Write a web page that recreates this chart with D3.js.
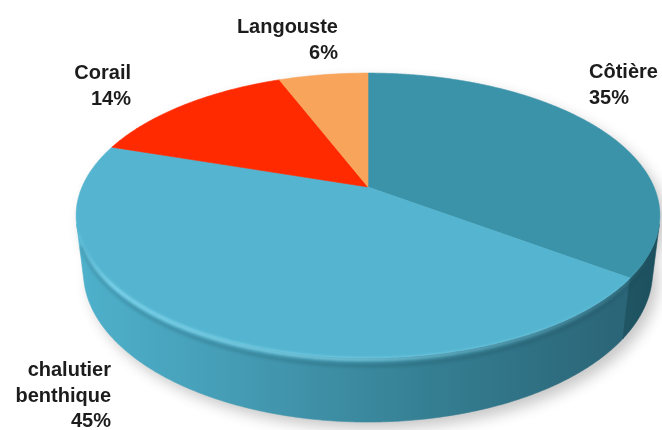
<!DOCTYPE html>
<html>
<head>
<meta charset="utf-8">
<script src="https://cdn.jsdelivr.net/npm/d3@7"></script>
<style>
  html, body { margin: 0; padding: 0; background: #ffffff; }
  svg { display: block; }
  text { font-family: "Liberation Sans", Arial, sans-serif; font-weight: bold; font-size: 20px; fill: #1c1c1c; }
</style>
</head>
<body>
<svg id="chart" width="662" height="430"></svg>
<script>
// Répartition par type de pêche
const categories = ["Côtière", "chalutier benthique", "Corail", "Langouste"];
const shares = [35, 45, 14, 6];
const shareLabels = ["35%", "45%", "14%", "6%"];

const topColors  = ["#3a93a9", "#55b5d0", "#ff2a00", "#f8a55b"];
const sideStops  = [
  ["#235e6e", "#1d4f5d"],
  ["#4fb1cc", "#4399b1", "#357e92", "#2b6678"],
  ["#b81e00", "#8f1700"],
  ["#c07a40", "#9a6030"]
];

// label placement: anchor point of the first line, text alignment
const labelLayout = [
  { x: 589, y: 78,  anchor: "start" },
  { x: 111, y: 376, anchor: "end" },
  { x: 131, y: 79,  anchor: "end" },
  { x: 338, y: 33,  anchor: "end" }
];
const lineHeight = 25.5;

const svg = d3.select("#chart");

// --- 3D disc projection (camera above, looking down at the pie centre) ---
const sinE = 0.478, cosE = Math.sqrt(1 - sinE * sinE);
const camDist = 4.392;          // camera distance in pie radii
const focal = 1256;             // px per unit at image plane
const cx = 368, cy = 187;       // screen position of the pie centre
const depth = 0.2275;           // thickness of the disc in radii

function project(a, r, y) {
  const wx = r * Math.sin(a), wz = -r * Math.cos(a), wy = y;
  const vy = wy - camDist * sinE, vz = wz - camDist * cosE;
  const xc = wx;
  const yc = vy * cosE - vz * sinE;
  const zc = -vy * sinE - vz * cosE;
  return [cx + focal * xc / zc, cy - focal * yc / zc];
}

const pie = d3.pie().sort(null).value(d => d);
const arcs = pie(shares);

const step = Math.PI / 360;
function arcPoints(a0, a1, y) {
  const n = Math.max(2, Math.ceil(Math.abs(a1 - a0) / step));
  return d3.range(n + 1).map(i => project(a0 + (a1 - a0) * i / n, 1, y));
}
const line = d3.line().curve(d3.curveLinear);

// visible part of the rim (front facing walls)
const kVis = 1 / (camDist * cosE);
const visMin = Math.acos(-kVis), visMax = 2 * Math.PI - Math.acos(-kVis);

const defs = svg.append("defs");
const blur = defs.append("filter").attr("id", "shadowBlur")
  .attr("x", "-20%").attr("y", "-20%").attr("width", "140%").attr("height", "140%");
blur.append("feGaussianBlur").attr("stdDeviation", 7);
const soft = defs.append("filter").attr("id", "softEdge")
  .attr("x", "-10%").attr("y", "-10%").attr("width", "120%").attr("height", "120%");
soft.append("feGaussianBlur").attr("stdDeviation", 1.6);
const faint = defs.append("filter").attr("id", "faint");
faint.append("feGaussianBlur").attr("stdDeviation", 0.45);

const xExt = d3.extent(arcPoints(0, 2 * Math.PI, 0), p => p[0]);
sideStops.forEach((stops, i) => {
  const g = defs.append("linearGradient").attr("id", "side" + i)
    .attr("gradientUnits", "userSpaceOnUse")
    .attr("x1", xExt[0]).attr("x2", xExt[1]).attr("y1", 0).attr("y2", 0);
  const pos = i === 0 ? [0.86, 1] : d3.range(stops.length).map(k => k / (stops.length - 1) * 0.92);
  stops.forEach((c, k) => g.append("stop").attr("offset", pos[k]).attr("stop-color", c));
});
const rimGrad = defs.append("linearGradient").attr("id", "rimGlow")
  .attr("gradientUnits", "userSpaceOnUse")
  .attr("x1", xExt[0]).attr("x2", xExt[1]).attr("y1", 0).attr("y2", 0);
[[0, 0.1], [0.06, 0.85], [0.45, 0.75], [0.8, 0.35], [1, 0]].forEach(([o, op]) =>
  rimGrad.append("stop").attr("offset", o).attr("stop-color", "#8fe4fa").attr("stop-opacity", op));

// drop shadow under the disc
const shadow = svg.append("g").attr("filter", "url(#shadowBlur)")
  .attr("transform", "translate(6,7)").attr("opacity", 0.32);
shadow.append("path").attr("d", line(arcPoints(0, 2 * Math.PI, -depth)) + "Z").attr("fill", "#555");
shadow.append("path").attr("d", line(arcPoints(0, 2 * Math.PI, 0)) + "Z").attr("fill", "#555");

// side walls
const walls = svg.append("g");
arcs.forEach((d, i) => {
  const a0 = Math.max(d.startAngle, visMin), a1 = Math.min(d.endAngle, visMax);
  if (a1 <= a0) return;
  const pts = arcPoints(a0, a1, 0).concat(arcPoints(a1, a0, -depth));
  walls.append("path").attr("d", line(pts) + "Z")
    .attr("fill", `url(#side${i})`)
    .attr("stroke", `url(#side${i})`).attr("stroke-width", 0.6);
});

// seams between wall segments
arcs.forEach(d => {
  const a = d.startAngle;
  if (a > visMin && a < visMax) {
    walls.append("path").attr("d", line([project(a, 1, 0), project(a, 1, -depth)]))
      .attr("stroke", "#1a4a57").attr("stroke-width", 1.2).attr("opacity", 0.6);
  }
});

// top faces
const tops = svg.append("g");
arcs.forEach((d, i) => {
  const pts = [project(0, 0, 0)].concat(arcPoints(d.startAngle, d.endAngle, 0));
  tops.append("path").attr("d", line(pts) + "Z")
    .attr("fill", topColors[i]).attr("stroke", topColors[i]).attr("stroke-width", 0.6)
    .attr("stroke-linejoin", "round");
});

// bevel light along the front rim
svg.append("path")
  .attr("d", line(arcPoints(visMin + 0.25, visMax - 0.06, -0.006)))
  .attr("fill", "none").attr("stroke", "url(#rimGlow)").attr("stroke-width", 3)
  .attr("stroke-linecap", "round")
  .attr("filter", "url(#softEdge)");
svg.append("path")
  .attr("d", line(arcPoints(visMin + 0.25, visMax - 0.1, -0.028)))
  .attr("fill", "none").attr("stroke", "#14414d").attr("stroke-width", 3)
  .attr("opacity", 0.22).attr("filter", "url(#softEdge)");

// data labels
const labels = svg.append("g").attr("filter", "url(#faint)");
categories.forEach((name, i) => {
  const lay = labelLayout[i];
  const lines = name.split(" ").concat(shareLabels[i]);
  const t = labels.append("text").attr("text-anchor", lay.anchor);
  lines.forEach((ln, k) => {
    t.append("tspan").attr("x", lay.x).attr("y", lay.y + k * lineHeight).text(ln);
  });
});
</script>
</body>
</html>
